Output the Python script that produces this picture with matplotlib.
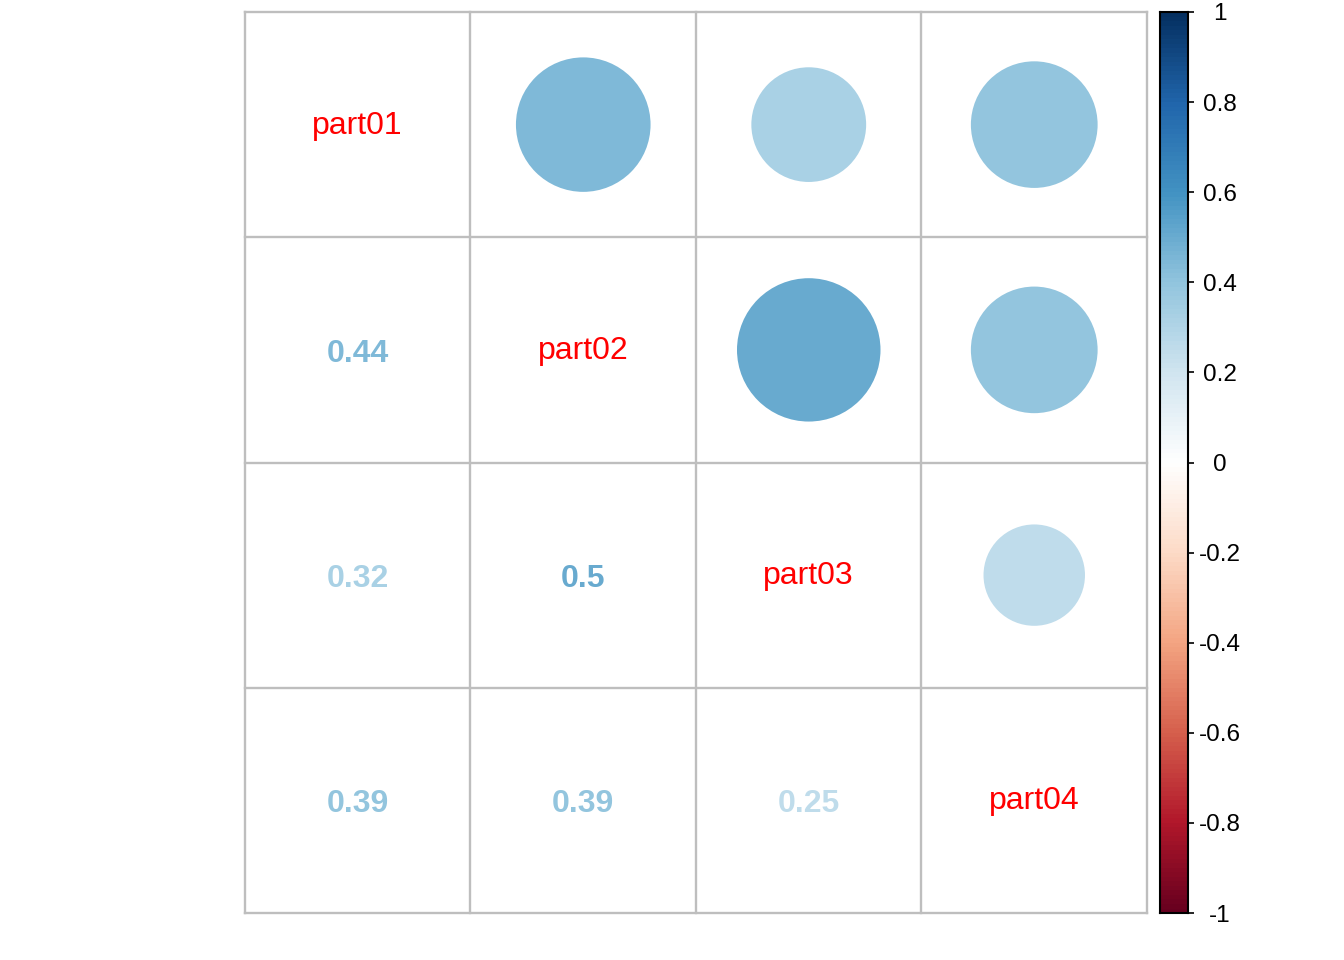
import matplotlib
matplotlib.use("Agg")
import matplotlib.pyplot as plt
import numpy as np
from matplotlib.colors import LinearSegmentedColormap, Normalize
from matplotlib.patches import Circle

plt.rcParams["font.family"] = ["Liberation Sans", "DejaVu Sans"]

# Variables and pairwise correlations (upper triangle, row-major)
labels = ["part01", "part02", "part03", "part04"]
pairs = [(0, 1), (0, 2), (0, 3), (1, 2), (1, 3), (2, 3)]
pair_corr = [0.44, 0.32, 0.39, 0.50, 0.39, 0.25]
cbar_ticks = [-1, -0.8, -0.6, -0.4, -0.2, 0, 0.2, 0.4, 0.6, 0.8, 1]

# corrplot RdBu palette
rdbu = ["#67001F", "#B2182B", "#D6604D", "#F4A582", "#FDDBC7", "#FFFFFF",
        "#D1E5F0", "#92C5DE", "#4393C3", "#2166AC", "#053061"]
cmap = LinearSegmentedColormap.from_list("corrRdBu", rdbu, N=200)
norm = Normalize(-1, 1)

n = len(labels)
corr = np.eye(n)
for (i, j), v in zip(pairs, pair_corr):
    corr[i, j] = corr[j, i] = v

W, H = 1344, 960
fig = plt.figure(figsize=(W / 100, H / 100), dpi=100)

# main grid: pixels 245..1147 x 12..913
ax = fig.add_axes([245 / W, (H - 913) / H, 902 / W, 901 / H])
ax.set_xlim(0.5, n + 0.5)
ax.set_ylim(0.5, n + 0.5)
ax.axis("off")

for k in range(n + 1):
    ax.plot([k + 0.5, k + 0.5], [0.5, n + 0.5], color="#BEBEBE", lw=1.7,
            zorder=1, clip_on=False)
    ax.plot([0.5, n + 0.5], [k + 0.5, k + 0.5], color="#BEBEBE", lw=1.7,
            zorder=1, clip_on=False)

for i in range(n):
    for j in range(n):
        x = j + 1
        y = n - i
        v = corr[i, j]
        if i == j:
            ax.text(x, y - 0.004, labels[i], color="red", fontsize=23,
                    ha="center", va="center")
        elif j > i:
            r = 0.9 * np.sqrt(abs(v)) / 2
            ax.add_patch(Circle((x, y), r, facecolor=cmap(norm(v)),
                                edgecolor="none", zorder=2))
        else:
            txt = f"{round(v, 2):g}"
            ax.text(x, y - 0.018, txt, color=cmap(norm(v)), fontsize=23,
                    fontweight="bold", ha="center", va="center")

# colour legend: pixels 1160..1188 x 12..913
cax = fig.add_axes([1160 / W, (H - 913) / H, 28 / W, 901 / H])
grad = np.linspace(-1, 1, 200).reshape(-1, 1)
cax.imshow(grad, cmap=cmap, norm=norm, aspect="auto", origin="lower",
           extent=[0, 1, -1, 1])
cax.set_xlim(0, 1)
cax.set_ylim(-1, 1)
cax.set_xticks([])
cax.yaxis.tick_right()
cax.set_yticks(cbar_ticks)
cax.set_yticklabels([f"{t:g}" for t in cbar_ticks])
cax.tick_params(axis="y", length=4, width=1.2, pad=19, labelsize=17.5)
for lab in cax.get_yticklabels():
    lab.set_horizontalalignment("center")
for sp in cax.spines.values():
    sp.set_linewidth(1.5)
    sp.set_color("black")

fig.savefig("out.png", dpi=100, facecolor="white")
